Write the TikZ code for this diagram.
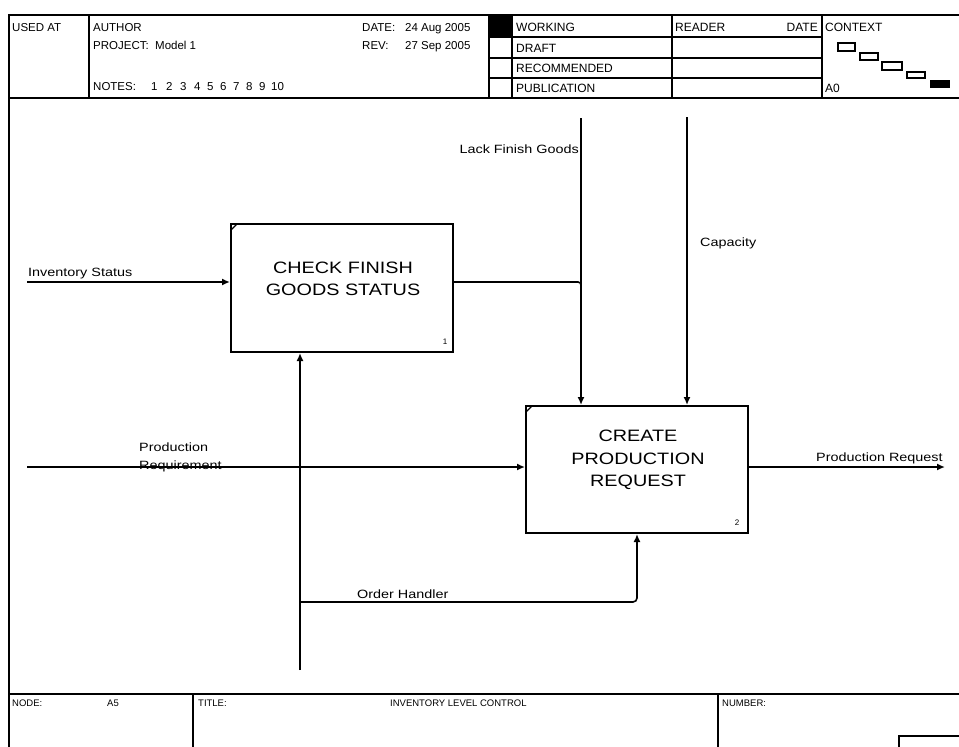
\documentclass[tikz,border=0pt]{standalone}
\usepackage{fontspec}
\setmainfont{Liberation Sans}
\newfontfamily\lblfont[FakeStretch=1.2]{Liberation Sans}
\usetikzlibrary{arrows.meta}
\begin{document}
\begin{tikzpicture}[x=1pt,y=-1pt,
  hdr/.style={font=\fontsize{11.5}{13}\selectfont, inner sep=0pt, anchor=base west},
  stat/.style={font=\fontsize{12}{14}\selectfont, inner sep=0pt, anchor=base west},
  ftr/.style={font=\fontsize{9.5}{11}\selectfont, inner sep=0pt, anchor=base west},
  lbl/.style={font=\lblfont\fontsize{12}{14}\selectfont, inner sep=0pt, anchor=base west},
  actbox/.style={draw, line width=2pt, inner sep=0pt},
  acttext/.style={font=\lblfont\fontsize{16.5}{22.5}\selectfont, align=center, inner sep=0pt},
  boxnum/.style={font=\fontsize{8}{9}\selectfont, inner sep=0pt},
  frame/.style={line width=1.8pt},
  thin/.style={line width=1.5pt},
  conn/.style={line width=1.6pt},
  flow/.style={conn, -{Latex[length=8pt,width=7pt]}}
]
\useasboundingbox (0,0) rectangle (959,747);
\clip (0,0) rectangle (959,747);
\fill[white] (0,0) rectangle (959,747);

% ---------- frame ----------
\draw[frame] (970,15) -- (9,15) -- (9,760);
\draw[frame] (9,98) -- (970,98);
\draw[frame] (9,694) -- (970,694);
\draw[thin] (89,15) -- (89,98);
\draw[thin] (489,15) -- (489,98);
\draw[thin] (512,15) -- (512,98);
\draw[thin] (672,15) -- (672,98);
\draw[thin] (822,15) -- (822,98);
\draw[thin] (489,37) -- (822,37);
\draw[thin] (489,58) -- (822,58);
\draw[thin] (489,78) -- (822,78);
\fill (489,15) rectangle (512,37);
% context mini boxes
\draw[line width=1.5pt] (838,43) rectangle (855,51);
\draw[line width=1.5pt] (860,53) rectangle (878,60);
\draw[line width=1.5pt] (882,62) rectangle (902,70);
\draw[line width=1.5pt] (907,72) rectangle (925,78);
\fill (930,80) rectangle (950,88);
% footer
\draw[thin] (193,694) -- (193,760);
\draw[thin] (718,694) -- (718,760);
\draw[thin] (970,736) -- (899,736) -- (899,760);

% ---------- header text ----------
\node[hdr] (usedat) at (12,31) {USED AT};
\node[hdr] (author) at (93,31) {AUTHOR};
\node[hdr] (project) at (93,49) {PROJECT:};
\node[hdr] (model) at (155,49) {Model 1};
\node[hdr] (notes) at (93,90) {NOTES:};
\foreach \n/\xx in {1/151,2/166,3/180,4/194,5/207,6/220,7/233,8/246,9/259,10/271}
  \node[hdr] (note\n) at (\xx,90) {\n};
\node[hdr] (datek) at (362,31) {DATE:};
\node[hdr] (datev) at (405,31) {24 Aug 2005};
\node[hdr] (revk) at (362,49) {REV:};
\node[hdr] (revv) at (405,49) {27 Sep 2005};
\node[stat] (working) at (516,31) {WORKING};
\node[stat] (draft) at (516,52) {DRAFT};
\node[stat] (recomm) at (516,72) {RECOMMENDED};
\node[stat] (public) at (516,92) {PUBLICATION};
\node[stat] (reader) at (675,31) {READER};
\node[stat, anchor=base east] (rdate) at (818,31) {DATE};
\node[stat] (context) at (825,31) {CONTEXT};
\node[stat] (azero) at (825,92) {A0};

% ---------- footer text ----------
\node[ftr] (nodek) at (12,706) {NODE:};
\node[ftr] (nodev) at (107,706) {A5};
\node[ftr] (titlek) at (198,706) {TITLE:};
\node[ftr] (titlev) at (390,706) {INVENTORY LEVEL CONTROL};
\node[ftr] (numberk) at (722,706) {NUMBER:};

% ---------- activity boxes ----------
\node[actbox, minimum width=222pt, minimum height=128pt] (b1) at (342,288) {};
\node[acttext] (b1t) at (343,279) {CHECK FINISH\\GOODS STATUS};
\node[boxnum] (b1n) at (445,342) {1};
\draw[line width=1.2pt] ([shift={(1,7)}]b1.north west) -- ([shift={(7,1)}]b1.north west);

\node[actbox, minimum width=222pt, minimum height=127pt] (b2) at (637,469.5) {};
\node[acttext] (b2t) at (638,460) {CREATE\\PRODUCTION\\REQUEST};
\node[boxnum] (b2n) at (737,523) {2};
\draw[line width=1.2pt] ([shift={(1,7)}]b2.north west) -- ([shift={(7,1)}]b2.north west);

% ---------- connectors ----------
\coordinate (is0) at (27,282);
\coordinate (pr0) at (27,467);
\coordinate (lf0) at (581,118);
\coordinate (lfj) at (581,282);
\coordinate (cap0) at (687,117);
\coordinate (out2) at (945,467);
\coordinate (oh0) at (300,670);
\coordinate (ohj) at (300,602);
\coordinate (ohk) at (637,602);

\draw[flow] (is0) -- (b1.west |- is0);
\draw[flow] (pr0) -- (b2.west |- pr0);
\draw[flow] (lf0) -- (lf0 |- b2.north);
\draw[conn, rounded corners=3pt] (b1.east |- lfj) -- (lfj) -- ++(0,4);
\draw[flow] (cap0) -- (cap0 |- b2.north);
\draw[flow] (b2.east |- out2) -- (out2);
\draw[flow] (oh0) -- (oh0 |- b1.south);
\draw[flow, rounded corners=4pt] (ohj) -- (ohk) -- (ohk |- b2.south);

% ---------- labels ----------
\node[lbl] (l_is) at (28,276) {Inventory Status};
\node[lbl] (l_pr1) at (139,451) {Production};
\node[lbl] (l_pr2) at (139,469) {Requirement};
\node[lbl, anchor=base east] (l_lf) at (579,153) {Lack Finish Goods};
\node[lbl] (l_cap) at (700,246) {Capacity};
\node[lbl] (l_out) at (816,461) {Production Request};
\node[lbl] (l_oh) at (357,598) {Order Handler};
\end{tikzpicture}
\end{document}
